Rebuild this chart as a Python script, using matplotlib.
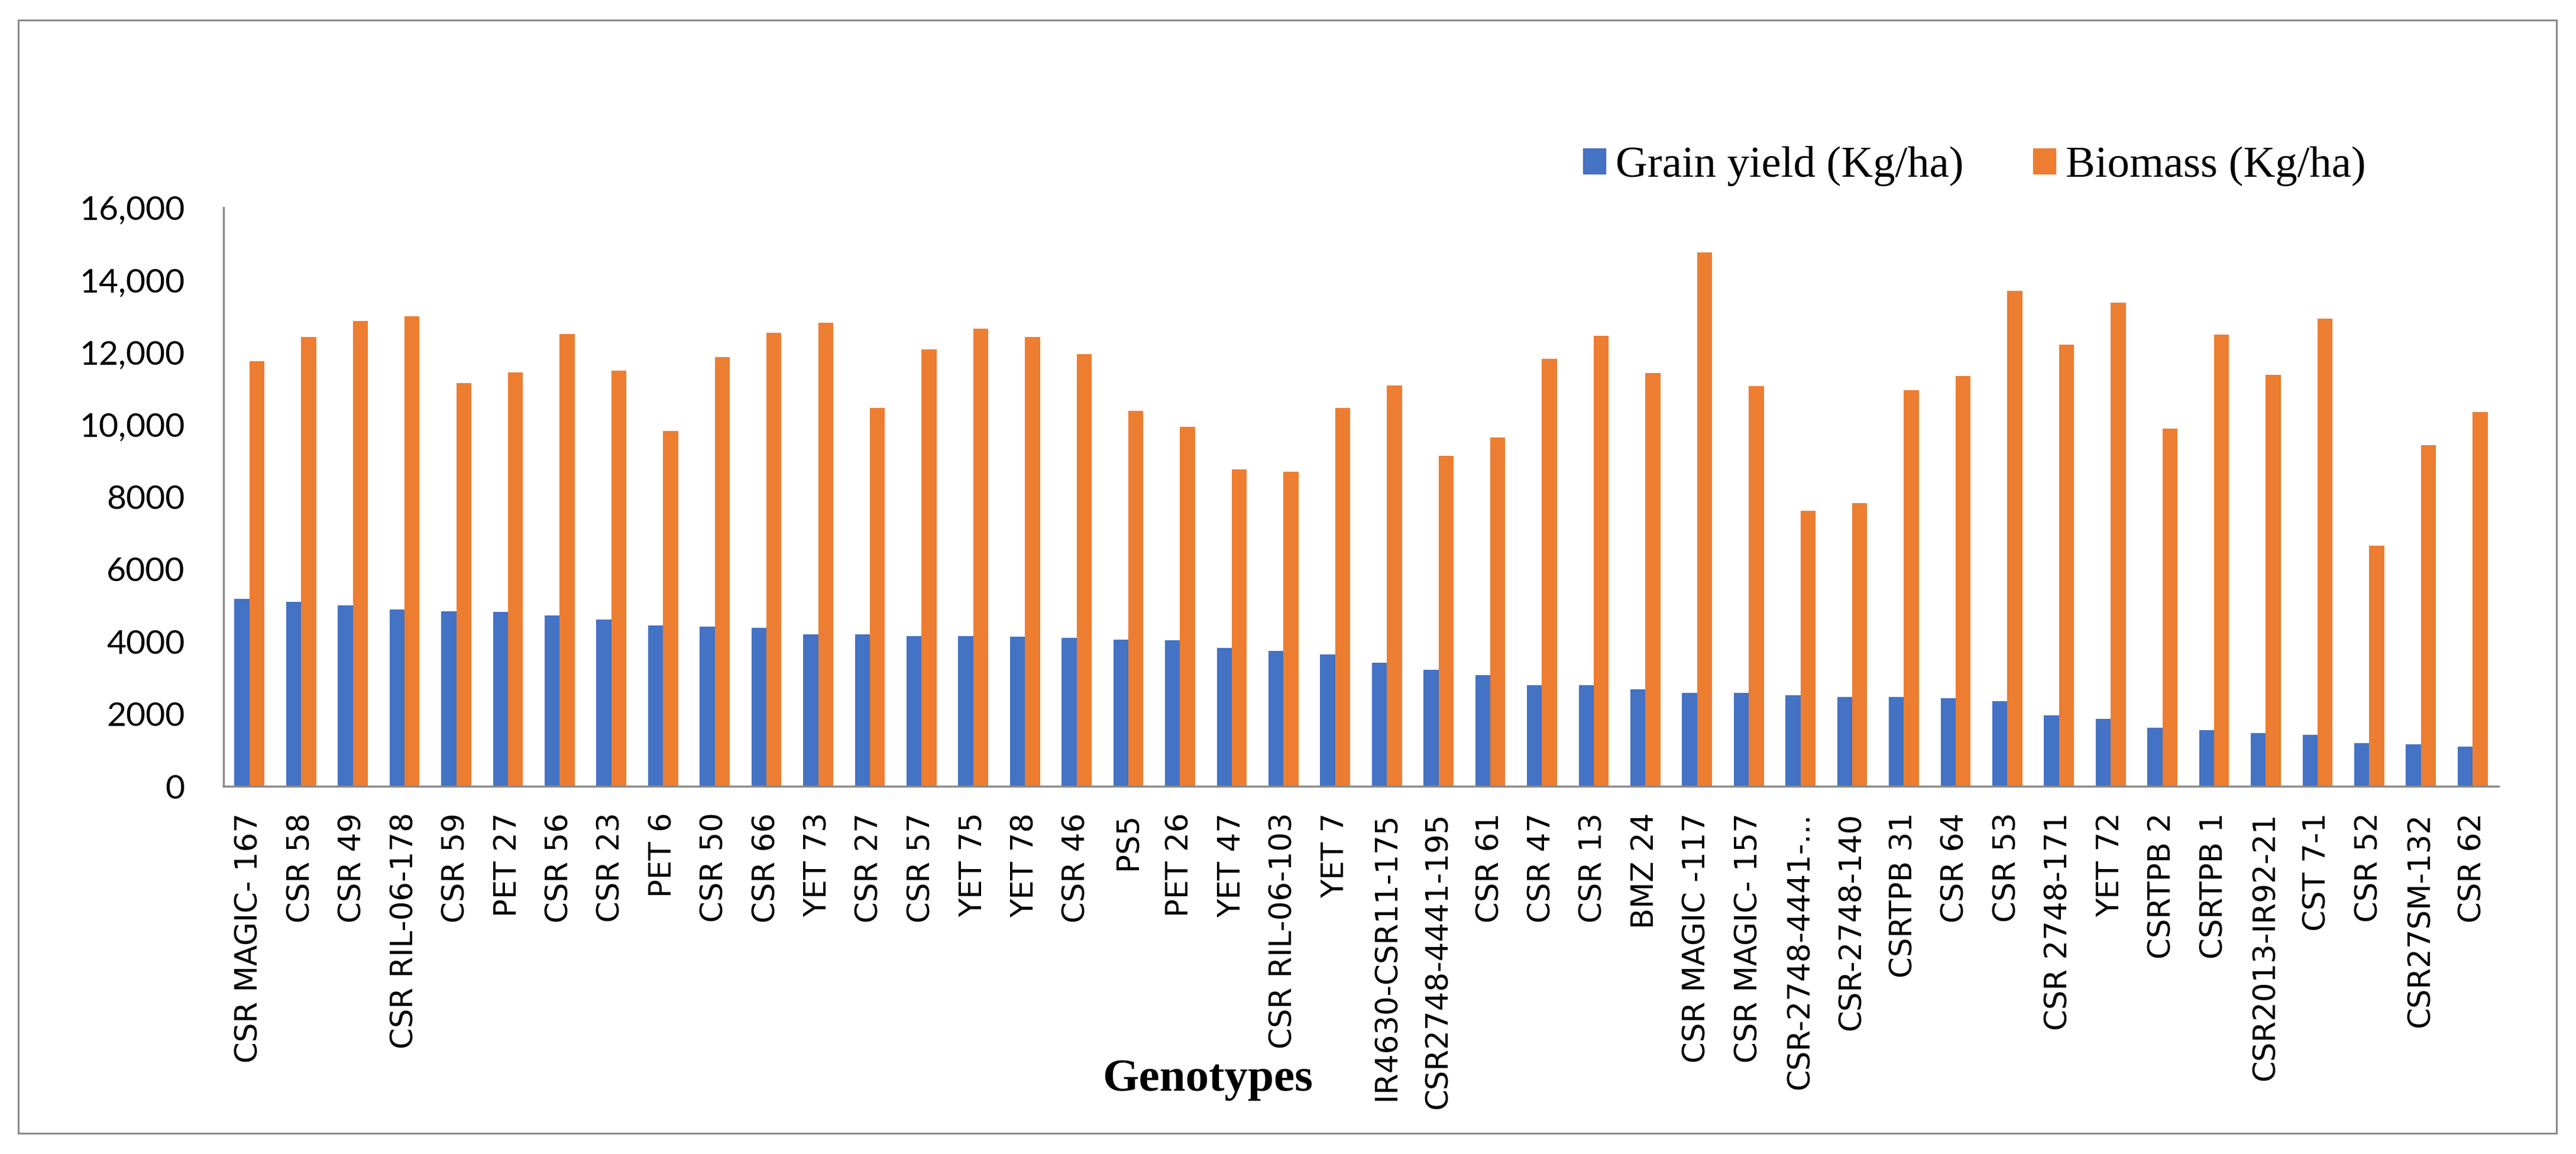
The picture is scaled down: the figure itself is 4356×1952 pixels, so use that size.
import numpy as np
import matplotlib
matplotlib.use('Agg')
import matplotlib.pyplot as plt
from matplotlib.patches import Rectangle, Patch

genotypes = ['CSR MAGIC- 167', 'CSR 58', 'CSR 49', 'CSR RIL-06-178', 'CSR 59', 'PET 27',
             'CSR 56', 'CSR 23', 'PET 6', 'CSR 50', 'CSR 66', 'YET 73', 'CSR 27',
             'CSR 57', 'YET 75', 'YET 78', 'CSR 46', 'PS5', 'PET 26', 'YET 47',
             'CSR RIL-06-103', 'YET 7', 'IR4630-CSR11-175', 'CSR2748-4441-195',
             'CSR 61', 'CSR 47', 'CSR 13', 'BMZ 24', 'CSR MAGIC -117', 'CSR MAGIC- 157',
             'CSR-2748-4441-...', 'CSR-2748-140', 'CSRTPB 31', 'CSR 64', 'CSR 53',
             'CSR 2748-171', 'YET 72', 'CSRTPB 2', 'CSRTPB 1', 'CSR2013-IR92-21',
             'CST 7-1', 'CSR 52', 'CSR27SM-132', 'CSR 62']

grain = [5180, 5100, 5000, 4885, 4840, 4820, 4720, 4610, 4450, 4415, 4380, 4200, 4200,
         4150, 4150, 4130, 4105, 4050, 4040, 3820, 3740, 3650, 3420, 3220, 3070, 2800,
         2800, 2680, 2590, 2580, 2510, 2470, 2470, 2430, 2360, 1960, 1860, 1620, 1550,
         1470, 1430, 1190, 1160, 1090]

biomass = [11750, 12420, 12870, 13000, 11150, 11440, 12500, 11490, 9820, 11870, 12530,
           12810, 10460, 12080, 12650, 12420, 11950, 10370, 9930, 8760, 8690, 10460,
           11080, 9140, 9640, 11810, 12450, 11420, 14750, 11070, 7610, 7830, 10950,
           11350, 13690, 12210, 13370, 9890, 12490, 11380, 12920, 6650, 9430, 10340]

yticks = [0, 2000, 4000, 6000, 8000, 10000, 12000, 14000, 16000]
ytick_labels = ['0', '2000', '4000', '6000', '8000', '10,000', '12,000', '14,000', '16,000']

blue = '#4472C4'
orange = '#ED7D31'
gray = '#898989'

fig = plt.figure(figsize=(43.56, 19.52), dpi=100)
ax = fig.add_axes([0.0868, 0.3186, 0.8831, 0.5016])

x = np.arange(len(genotypes))
w = 0.29
ax.bar(x - w / 2, grain, w, color=blue)
ax.bar(x + w / 2, biomass, w, color=orange)

ax.set_xlim(-0.5, len(genotypes) - 0.5)
ax.set_ylim(0, 16000)
ax.set_yticks(yticks)
ax.set_yticklabels(ytick_labels, fontname='Lato', fontsize=41)
ax.set_xticks(x)
ax.set_xticklabels(genotypes, rotation=90, fontname='DejaVu Sans', fontsize=37)
ax.tick_params(axis='x', length=0, pad=32)
ax.tick_params(axis='y', length=0, pad=47)

for s in ['top', 'right']:
    ax.spines[s].set_visible(False)
for s in ['left', 'bottom']:
    ax.spines[s].set_color(gray)
    ax.spines[s].set_linewidth(2.5)

handles = [Patch(color=blue, label='Grain yield (Kg/ha)'),
           Patch(color=orange, label='Biomass (Kg/ha)')]
fig.legend(handles=handles, loc='center', bbox_to_anchor=(0.7665, 0.856), ncol=2,
           frameon=False, prop={'family': 'Liberation Serif', 'size': 53.7},
           handlelength=0.51, handleheight=0.5, handletextpad=0.23,
           columnspacing=1.57, borderpad=0)

fig.text(0.4688, 0.0548, 'Genotypes', ha='center', va='baseline',
         fontname='Liberation Serif', fontweight='bold', fontsize=57)

fig.patches.append(Rectangle((0.00712, 0.01793), 0.9853, 0.96465, transform=fig.transFigure,
                             fill=False, edgecolor=gray, linewidth=2.2))

plt.savefig('out.png', dpi=100)
